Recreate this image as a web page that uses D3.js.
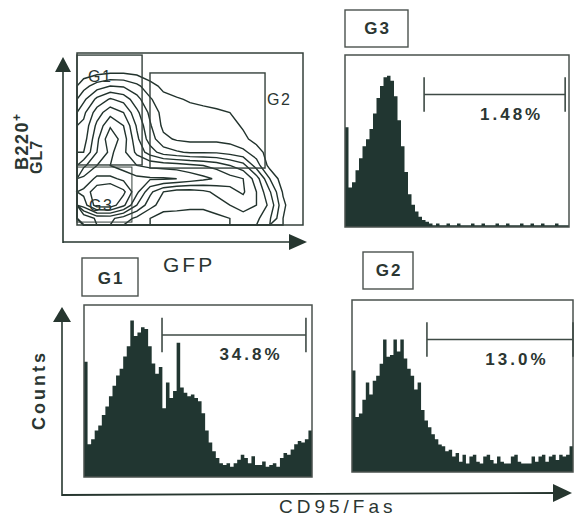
<!DOCTYPE html>
<html><head><meta charset="utf-8">
<script src="https://cdn.jsdelivr.net/npm/d3@7"></script>
<style>
body{margin:0;background:#fff}
svg{display:block}
text{font-family:"Liberation Sans",Arial,sans-serif;fill:#2b3632}
</style>
</head><body>
<svg id="c" width="574" height="527"></svg>
<script>
// ---------- DATA ----------
// Histogram counts (percent of panel height), 64 bins over CD95/Fas
const g3Counts = [58,23,26,33,40,47,51,57,66,75,82,87,88,85,76,62,47,32,19,13,9,6,4,3,
  2,1,2,1,1,2,1,1,2,1,1,1,2,1,1,2,1,1,1,2,1,1,2,1,1,1,2,1,1,2,1,1,2,1,1,1,2,1,1,1];
const g1Counts = [67,19,22,27,30,36,41,47,53,59,63,70,76,91,82,84,87,86,76,66,60,64,40,55,
  46,50,78,52,49,47,48,46,44,37,27,20,15,11,8,7,8,6,8,10,13,11,8,12,7,7,9,6,7,8,6,11,
  14,13,16,19,21,20,22,27];
const g2Counts = [59,32,34,42,52,45,53,56,63,77,67,68,77,70,77,66,60,56,48,52,36,30,26,22,
  19,16,15,12,13,9,11,6,10,5,9,10,6,5,9,10,7,5,9,6,5,5,9,10,6,5,5,5,9,6,9,10,6,9,10,7,
  10,9,10,15];
const histNames = ["G3","G1","G2"];
const percentLabels = ["1.48%","34.8%","13.0%"];
const markerFrom = [22.6,21.9,21.7];   // bin index
const markerTo = [62.9,62.3,64];
const markerLevel = [77,82.6,77];      // percent of height

// GFP (cols) x B220+GL7 (rows, top = high) density grid
const gfpDensity = [
  [0.2,0.3,0.4,0.4,0.3,0.1,0,0,0,0,0,0,0,0,0,0,0],
  [0.4,0.6,0.75,0.75,0.6,0.3,0.1,0,0,0,0,0,0,0,0,0,0],
  [1.3,2,2.4,2.3,1.8,1.1,0.6,0.3,0.1,0,0,0,0,0,0,0,0],
  [2.2,3.4,4.1,3.7,2.7,1.7,1.05,0.9,0.7,0.5,0.3,0.1,0,0,0,0,0],
  [3,4.4,5.3,4.8,3.4,2.2,1.3,1.1,1.1,1.1,1,0.8,0.3,0,0,0,0],
  [3.4,5,6.3,5.6,3.9,2.5,1.4,1.2,1.2,1.2,1.2,1.1,0.7,0.2,0,0,0],
  [3.6,5.4,7,6,4.2,2.8,1.8,1.5,1.4,1.4,1.4,1.3,1,0.5,0.1,0,0],
  [4,5.6,6.6,5.8,4.6,3.6,2.8,2.5,2.3,2.3,2.3,2.1,1.8,1.2,0.4,0,0],
  [5.4,6.4,6.4,6,5.6,5.4,5.3,5.2,5,4.8,4.5,4,3.5,2,0.5,0,0],
  [6.6,7.4,7.4,7,6.6,6.5,6.5,6.4,6.1,5.8,5.5,5.1,4.8,3.6,1.6,0.3,0],
  [7.4,8.6,9,8.2,6.6,5,4,3.6,3.6,3.8,4.2,4.6,4.9,4,2.5,0.7,0],
  [6.8,8.4,8.5,7.4,5.6,4.3,3.6,3.5,3.4,3.4,3.6,4,4.4,4,3,1,0],
  [4,5,5,4.4,3.8,3.2,2.8,2.8,2.8,2.8,3,3.2,3.6,3.4,2.5,0.8,0]
];
const contourLevels = [0.8,1.6,2.4,3.2,4,4.8,5.6,6.4,7.2,8];
// gates in GFP / B220 units (0-100)
const gateNames = ["G1","G2","G3"];
const gateX0 = [0,32.3,0];
const gateX1 = [28.8,83.2,24.3];
const gateY0 = [34.9,33.1,1.7];
const gateY1 = [98.8,88.4,33.7];

// ---------- DRAW ----------
const svg = d3.select("#c");
const ink = "#26362f";
const lineC = "#34403b";

function arrowUp(x, tipY, len, half){
  svg.append("path").attr("d",`M${x},${tipY}L${x-half},${tipY+len}L${x+half},${tipY+len}Z`).attr("fill",ink);
}
function arrowRight(y, tipX, len, half){
  svg.append("path").attr("d",`M${tipX},${y}L${tipX-len},${y-half}L${tipX-len},${y+half}Z`).attr("fill",ink);
}

// --- contour panel ---
const cb = {x0:77,x1:303,y0:53,y1:225};
const nRows = gfpDensity.length, nCols = gfpDensity[0].length;
const gx = d3.scaleLinear().domain([0,nCols]).range([cb.x0,cb.x1]);
const gy = d3.scaleLinear().domain([0,nRows]).range([cb.y0,cb.y1]);
const contours = d3.contours().size([nCols,nRows]).smooth(true).thresholds(contourLevels)(gfpDensity.flat());
const proj = d3.geoTransform({point:function(x,y){this.stream.point(gx(x),gy(y));}});
const path = d3.geoPath(proj);
svg.append("g").selectAll("path").data(contours).join("path")
  .attr("d",path).attr("fill","none").attr("stroke","#22332d").attr("stroke-width",1.4);

svg.append("rect").attr("x",cb.x0).attr("y",cb.y0).attr("width",cb.x1-cb.x0).attr("height",cb.y1-cb.y0)
  .attr("fill","none").attr("stroke",lineC).attr("stroke-width",1.5);

const sx = d3.scaleLinear().domain([0,100]).range([cb.x0,cb.x1]);
const sy = d3.scaleLinear().domain([0,100]).range([cb.y1,cb.y0]);
gateNames.forEach((g,i)=>{
  svg.append("rect").attr("x",sx(gateX0[i])).attr("y",sy(gateY1[i]))
    .attr("width",sx(gateX1[i])-sx(gateX0[i])).attr("height",sy(gateY0[i])-sy(gateY1[i]))
    .attr("fill","none").attr("stroke",lineC).attr("stroke-width",i===2?1:1.4);
});
const gl = svg.append("g").attr("font-size",16).attr("letter-spacing",1.5).style("fill","#1f2a26");
gl.append("text").attr("x",sx(gateX0[0])+11).attr("y",sy(gateY1[0])+27).text(gateNames[0]);
gl.append("text").attr("x",sx(gateX1[1])+2).attr("y",sy(gateY1[1])+32).text(gateNames[1]);
gl.append("text").attr("x",sx(gateX0[2])+12).attr("y",sy(gateY0[2])-11).text(gateNames[2]);

// contour axes
svg.append("line").attr("x1",63).attr("y1",243).attr("x2",63).attr("y2",68).attr("stroke",ink).attr("stroke-width",1.6);
arrowUp(63,57,15,8);
svg.append("line").attr("x1",63).attr("y1",242).attr("x2",295).attr("y2",242).attr("stroke",ink).attr("stroke-width",1.6);
arrowRight(242,307,18,8);
svg.append("text").attr("x",163).attr("y",272).attr("font-size",21).attr("letter-spacing",3).text("GFP");
const yl = svg.append("g").attr("font-weight","bold");
yl.append("text").attr("transform","translate(28,170) rotate(-90)").attr("font-size",18).attr("letter-spacing",1.5)
  .text("B220").append("tspan").attr("dy",-7).attr("font-size",12).text("+");
yl.append("text").attr("transform","translate(42,174) rotate(-90)").attr("font-size",16).attr("letter-spacing",1).text("GL7");

// --- histograms ---
const boxes = [
  {x0:345,x1:569,y0:55,y1:227, lb:[345,10,408,47], lt:[376.5,34]},
  {x0:84,x1:312,y0:305,y1:477, lb:[82,258,138,296], lt:[110,284]},
  {x0:352,x1:573,y0:300,y1:472, lb:[363,252,413,289], lt:[388,276]}
];
const allCounts = [g3Counts,g1Counts,g2Counts];
boxes.forEach((b,k)=>{
  const counts = allCounts[k];
  const x = d3.scaleLinear().domain([0,counts.length]).range([b.x0,b.x1]);
  const y = d3.scaleLinear().domain([0,100]).range([b.y1,b.y0]);
  const pts = counts.map((c,i)=>[i,c]).concat([[counts.length,counts[counts.length-1]]]);
  const area = d3.area().curve(d3.curveStepAfter).x(d=>x(d[0])).y0(y(0)).y1(d=>y(d[1]));
  svg.append("path").attr("d",area(pts)).attr("fill","#213631");
  svg.append("rect").attr("x",b.x0).attr("y",b.y0).attr("width",b.x1-b.x0).attr("height",b.y1-b.y0)
    .attr("fill","none").attr("stroke","#4a524e").attr("stroke-width",1.5);
  // marker
  const mf = x(markerFrom[k]), mt = x(markerTo[k]), ml = y(markerLevel[k]);
  const mk = svg.append("g").attr("stroke","#3e4a45").attr("stroke-width",1.6);
  mk.append("line").attr("x1",mf).attr("x2",mt).attr("y1",ml).attr("y2",ml);
  mk.append("line").attr("x1",mf).attr("x2",mf).attr("y1",y(markerLevel[k]+10)).attr("y2",y(markerLevel[k]-10));
  mk.append("line").attr("x1",mt).attr("x2",mt).attr("y1",y(markerLevel[k]+10)).attr("y2",y(markerLevel[k]-10));
  svg.append("text").attr("x",(mf+mt)/2+17).attr("y",ml+25).attr("text-anchor","middle")
    .attr("font-size",17).attr("font-weight","bold").attr("letter-spacing",3).text(percentLabels[k]);
  // label box
  svg.append("rect").attr("x",b.lb[0]).attr("y",b.lb[1]).attr("width",b.lb[2]-b.lb[0]).attr("height",b.lb[3]-b.lb[1])
    .attr("fill","none").attr("stroke","#4a524e").attr("stroke-width",1.4);
  svg.append("text").attr("x",b.lt[0]+1).attr("y",b.lt[1]).attr("text-anchor","middle")
    .attr("font-size",17).attr("font-weight","bold").attr("letter-spacing",2).text(histNames[k]);
});

// bottom axes
svg.append("line").attr("x1",62).attr("y1",496).attr("x2",62).attr("y2",320).attr("stroke",ink).attr("stroke-width",1.6);
arrowUp(62,307,15,9);
svg.append("line").attr("x1",62).attr("y1",495).attr("x2",556).attr("y2",493).attr("stroke",ink).attr("stroke-width",1.8);
arrowRight(493,572,19,9);
svg.append("text").attr("x",279).attr("y",513).attr("font-size",19).attr("letter-spacing",4).text("CD95/Fas");
svg.append("text").attr("transform","translate(45,390) rotate(-90)").attr("text-anchor","middle")
  .attr("font-size",18).attr("font-weight","bold").attr("letter-spacing",3).text("Counts");
</script>
</body></html>
